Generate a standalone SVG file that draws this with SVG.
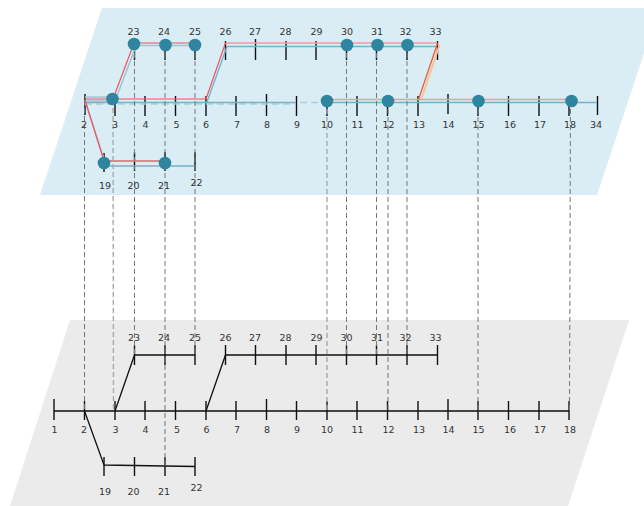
<svg xmlns="http://www.w3.org/2000/svg" width="644" height="506" viewBox="0 0 644 506">
<style>
text{font-family:"DejaVu Sans",sans-serif;font-size:9.5px;fill:#333;text-anchor:middle}
.t{stroke:#111;stroke-width:1.4;fill:none}
.b{stroke:#111;stroke-width:1.3;fill:none}
.m{stroke:#444;stroke-width:1.8;fill:none}
.r{stroke:#f0545a;stroke-width:1.2;fill:none}
.p{stroke:#e8a0a4;stroke-width:1.6;fill:none}
.o{stroke:#ee5a3a;stroke-width:1.3;fill:none}
.oo{stroke:#f2c59c;stroke-width:2;fill:none}
.c{stroke:#74b3c6;stroke-width:1.4;fill:none}
.cl{stroke:#9cc8d6;stroke-width:1.6;fill:none}
.cd{stroke:#a8d0dc;stroke-width:1.6;fill:none;stroke-dasharray:7 4}
.d{stroke:#777;stroke-width:1;fill:none;stroke-dasharray:5 3}
.dl{stroke:#aaa;stroke-width:1.4;fill:none;stroke-dasharray:5 3}
.n{fill:#2f859f}
</style>
<g id="planes">
<polygon points="102,8 644,8 644,53 597,195 40,195" fill="#daedf4"/>
<polygon points="70,320 629,320 568,506 10,506" fill="#ebebeb"/>
</g>
<g id="lower-network">
<path class="m" d="M54 411H569"/>
<path class="b" d="M84.500 411L104 465M104 465L195 466.500M115 411L134.500 355H195M206 411L225.500 355H437.500"/>
<path class="t" d="M54 399V420M84.500 401V420M115 401V420M145 401V420M175.500 401V420M206 401V420M236 401V420M266.500 399V420M296.500 401V420M327 401V420M357 401V420M387.500 401V420M418 401V420M448 399V420M478 401V420M508.500 401V420M539 401V420M569 401V420"/>
<path class="t" d="M134.500 345V365M165 345V365M195 345V365M225.500 345V365M255.500 345V365M286 345V365M316 345V365M346.500 345V365M376.500 345V365M407 345V365M437.500 345V365"/>
<path class="t" d="M104 457V476M134.500 457V476M165 457V476M195 457V476"/>
</g>
<g id="upper-ticks">
<path class="t" d="M85 94V115M115 96V116M145 96V116M175.500 96V116M206 96V116M236 96V116M266.500 94V116M296.500 96V116M327 96V116M357 96V116M387.500 96V116M418 96V116M448 94V114M478 96V116M508.500 96V116M539 96V116M569 96V116M597.500 96V115"/>
<path class="t" d="M134.500 45V60M165 45V60M195 45V60M225.500 41V60M255.500 39V60M286 41V60M316 41V60M346.500 41V60M376.500 41V60M407 41V60M437.500 41V60"/>
<path class="t" d="M104 153V172M134.500 152V171M165 152V171M195 152V171"/>
</g>
<g id="connectors">
<path class="cl" d="M85 97H112M85 101H112M135 45.500H195M115 101L136 46M86 104L105 162"/>
<path class="cd" d="M85 104H296M300 102.500H325"/>
<path class="c" d="M85 102.500H296M327 102.500H597M104 166H195M207 102L227 46.500H437"/>
<path class="oo" d="M439.500 45L421 100"/>
<path class="p" d="M225.500 43H437.500M327 99.500H571M104 161H165"/>
<path class="r" d="M85 99H206L225.500 43M113 99L134 43H195M85 100L104 161M104 161H165"/>
<path class="o" d="M418.500 99.500L437.500 43.500"/>
<path class="d" d="M84.500 100V411M134.500 45V355M165 45V466M195 45V355M346.500 45V355M376.500 45V355M407 45V355M388 101V411M478 101V411M570.500 101L569.500 411"/>
<path class="dl" d="M113 100L113.500 411M327 101V411"/>
</g>
<g id="nodes">
<g id="n3"><circle class="n" cx="112.500" cy="99" r="6.300"/></g>
<g id="n23"><circle class="n" cx="134" cy="44" r="6.300"/></g>
<g id="n24"><circle class="n" cx="165.500" cy="45" r="6.300"/></g>
<g id="n25"><circle class="n" cx="195" cy="45" r="6.300"/></g>
<g id="n30"><circle class="n" cx="347" cy="45" r="6.300"/></g>
<g id="n31"><circle class="n" cx="377.500" cy="45" r="6.300"/></g>
<g id="n32"><circle class="n" cx="407.500" cy="45" r="6.300"/></g>
<g id="n10"><circle class="n" cx="327" cy="101" r="6.300"/></g>
<g id="n12"><circle class="n" cx="388" cy="101" r="6.300"/></g>
<g id="n15"><circle class="n" cx="478.500" cy="101" r="6.300"/></g>
<g id="n18"><circle class="n" cx="571.500" cy="101" r="6.300"/></g>
<g id="n19"><circle class="n" cx="104" cy="163" r="6.300"/></g>
<g id="n21"><circle class="n" cx="165" cy="163" r="6.300"/></g>
</g>
<g id="upper-labels">
<text x="133.500" y="35">23</text><text x="164" y="35">24</text><text x="195" y="35">25</text><text x="225.500" y="35">26</text><text x="255" y="35">27</text><text x="285.500" y="35">28</text><text x="316.500" y="35">29</text><text x="347" y="35">30</text><text x="377" y="35">31</text><text x="405.500" y="35">32</text><text x="435.500" y="35">33</text>
<text x="84" y="128">2</text><text x="115" y="128">3</text><text x="145.500" y="128">4</text><text x="176.500" y="128">5</text><text x="206" y="128">6</text><text x="237" y="128">7</text><text x="267" y="128">8</text><text x="297" y="128">9</text><text x="327" y="128">10</text><text x="357.500" y="128">11</text><text x="388.500" y="128">12</text><text x="419" y="128">13</text><text x="448.500" y="128">14</text><text x="478.500" y="128">15</text><text x="510" y="128">16</text><text x="540" y="128">17</text><text x="570" y="128">18</text><text x="596" y="128">34</text>
<text x="105" y="189">19</text><text x="133.500" y="189">20</text><text x="164" y="189">21</text><text x="196.500" y="186">22</text>
</g>
<g id="lower-labels">
<text x="134" y="341">23</text><text x="164" y="341">24</text><text x="195" y="341">25</text><text x="225.500" y="341">26</text><text x="255" y="341">27</text><text x="285.500" y="341">28</text><text x="316.500" y="341">29</text><text x="346.500" y="341">30</text><text x="377" y="341">31</text><text x="405.500" y="341">32</text><text x="435.500" y="341">33</text>
<text x="54.500" y="433">1</text><text x="84" y="433">2</text><text x="115.500" y="433">3</text><text x="145.500" y="433">4</text><text x="177" y="433">5</text><text x="206.500" y="433">6</text><text x="237" y="433">7</text><text x="267" y="433">8</text><text x="297" y="433">9</text><text x="327" y="433">10</text><text x="357.500" y="433">11</text><text x="388.500" y="433">12</text><text x="419" y="433">13</text><text x="448.500" y="433">14</text><text x="478.500" y="433">15</text><text x="510" y="433">16</text><text x="540" y="433">17</text><text x="570" y="433">18</text>
<text x="105" y="495">19</text><text x="133.500" y="495">20</text><text x="164" y="495">21</text><text x="196.500" y="491">22</text>
</g>
</svg>
